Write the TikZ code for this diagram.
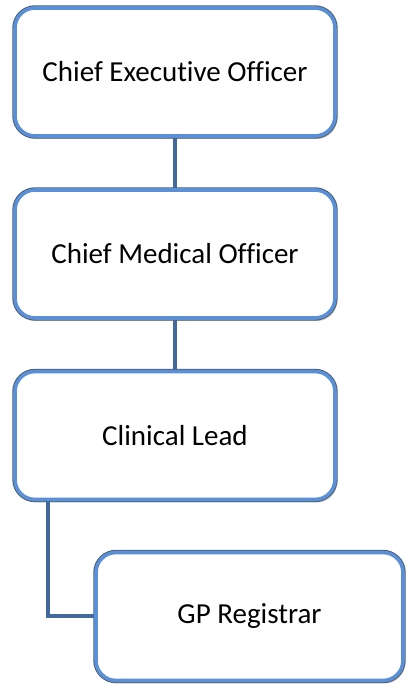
\documentclass[tikz,border=0pt]{standalone}
\usepackage{fontspec}
\setmainfont[Ligatures=NoCommon]{Carlito}
\usetikzlibrary{shadows}
\definecolor{boxblue}{HTML}{5B8FD6}
\definecolor{boxedge}{HTML}{4A5A70}
\definecolor{linkblue}{HTML}{40699E}
\tikzset{
  rolebox/.style={rectangle, rounded corners=20pt, minimum width=320pt, minimum height=128pt,
    fill=white, draw=boxblue, line width=3.6pt, font=\fontsize{29}{34}\selectfont, inner sep=0pt,
    preaction={draw=boxedge, line width=5.4pt, rounded corners=20pt},
    drop shadow={shadow xshift=2pt, shadow yshift=-3pt, opacity=0.35, fill=black!60}},
  link/.style={draw=linkblue, line width=4pt}
}
\begin{document}
\begin{tikzpicture}[x=1pt,y=1pt]
\useasboundingbox (0,0) rectangle (407,684);
\draw[link] (175,612) -- (175,430);
\draw[link] (175,430) -- (175,248.5);
\coordinate (bend) at (48,67.5);
\node[rolebox] (ceo) at (175,612) {Chief Executive Officer};
\node[rolebox] (cmo) at (175,430) {Chief Medical Officer};
\node[rolebox] (lead) at (175,248.5) {Clinical Lead};
\node[rolebox, minimum width=307pt] (gp) at (249.5,67.5) {GP Registrar};
\draw[link] (lead.south -| bend) -- (bend) -- (gp.west);
\end{tikzpicture}
\end{document}
